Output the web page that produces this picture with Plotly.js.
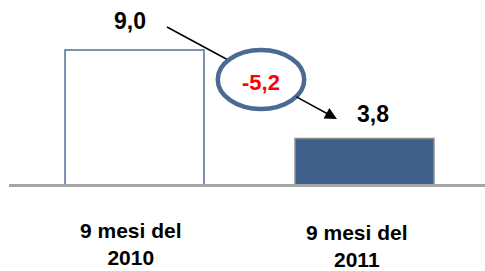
<!DOCTYPE html>
<html>
<head>
<meta charset="utf-8">
<script src="https://cdn.plot.ly/plotly-3.0.1.min.js"></script>
<style>html,body{margin:0;padding:0;background:#fff;}#chart{width:485px;height:271px;}</style>
</head>
<body>
<div id="chart"></div>
<script>
const categories = ['9 mesi del<br>2010', '9 mesi del<br>2011'];
const values = [9.0, 3.8];
const valueLabels = ['9,0', '3,8'];
const changeLabel = '-5,2';

const FONT = 'Liberation Sans, Arial, sans-serif';
const idx = categories.map((c, i) => i);

const trace = {
  type: 'bar',
  x: idx,
  y: values,
  width: 0.604,
  marker: {
    color: ['#ffffff', '#3f6189'],
    line: { color: ['#4d6f98', '#8c8c8c'], width: [1.5, 1.5] }
  },
  hoverinfo: 'skip'
};

const labelShift = [{ xs: -4.5, ys: 29 }, { xs: 8.5, ys: 24.5 }];
const catShift = [{ xs: -3.5, ys: -33 }, { xs: -7, ys: -35 }];

const annotations = [];
idx.forEach(i => {
  annotations.push({
    x: i, y: values[i], xref: 'x', yref: 'y', text: '<b>' + valueLabels[i] + '</b>',
    showarrow: false, xanchor: 'center', yanchor: 'middle',
    xshift: labelShift[i].xs, yshift: labelShift[i].ys,
    font: { family: FONT, size: 23, color: '#000' }
  });
  annotations.push({
    x: i, y: 0, xref: 'x', yref: 'paper', text: '<b>' + categories[i] + '</b>',
    showarrow: false, xanchor: 'center', yanchor: 'top',
    xshift: catShift[i].xs, yshift: catShift[i].ys,
    font: { family: FONT, size: 21, color: '#000' }
  });
});
// arrow head segment
annotations.push({
  x: 0.8804, y: 4.948, xref: 'x', yref: 'y', text: '', showarrow: true,
  ax: -42, ay: -23, axref: 'pixel', ayref: 'pixel',
  arrowhead: 2, arrowsize: 1.6, arrowwidth: 1.5, arrowcolor: '#000'
});
// change label
annotations.push({
  x: 0.55, y: 7.269, xref: 'x', yref: 'y', text: '<b>' + changeLabel + '</b>',
  showarrow: false, xanchor: 'center', yanchor: 'middle', yshift: -3,
  font: { family: FONT, size: 22, color: '#ff0000' }
});

const layout = {
  width: 485, height: 271,
  margin: { l: 9, r: 0, t: 0, b: 87 },
  paper_bgcolor: '#ffffff', plot_bgcolor: '#ffffff',
  showlegend: false,
  xaxis: {
    type: 'linear', range: [-0.5457, 1.524], showgrid: false, zeroline: false,
    showticklabels: false, ticks: '', showline: true, linecolor: '#a6a6a6', linewidth: 3,
    fixedrange: true
  },
  yaxis: {
    range: [1.127, 11.94], visible: false, showgrid: false, zeroline: false, fixedrange: true
  },
  shapes: [
    { type: 'line', xref: 'x', yref: 'y', x0: 0.1413, y0: 10.354, x1: 0.4152, y1: 8.356,
      line: { color: '#000', width: 1.5 } },
    { type: 'circle', xref: 'x', yref: 'y', x0: 0.362, x1: 0.738, y0: 5.53, y1: 9.0,
      fillcolor: '#ffffff', line: { color: '#4a6a92', width: 4.5 } }
  ],
  annotations: annotations
};

Plotly.newPlot('chart', [trace], layout, { displayModeBar: false, staticPlot: true });
</script>
</body>
</html>
